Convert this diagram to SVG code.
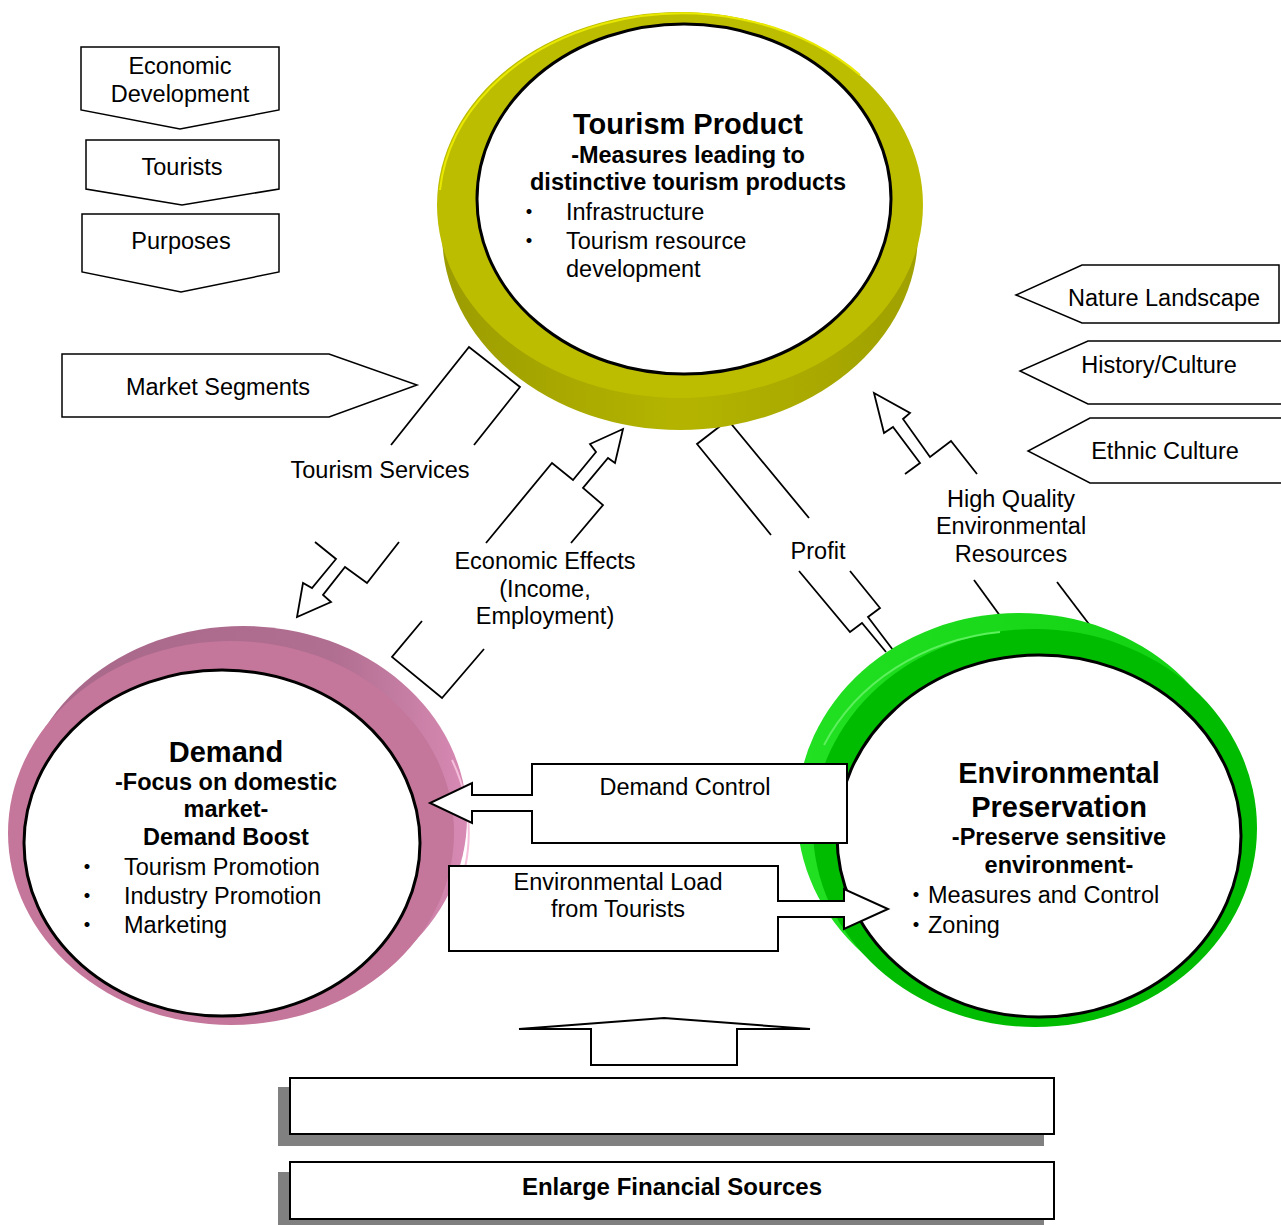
<svg xmlns="http://www.w3.org/2000/svg" width="1281" height="1225" viewBox="0 0 1281 1225">
<style>
text{font-family:"Liberation Sans",Arial,"Noto Sans CJK JP",sans-serif;fill:#000}
.t{font-size:23.5px}
.c{text-anchor:middle}
.h{font-size:29px;font-weight:bold}
.s{font-size:23.5px;font-weight:bold}
.shape{fill:#fff;stroke:#000;stroke-width:1.5}
.box{fill:#fff;stroke:#000;stroke-width:2}
.ln{fill:none;stroke:#000;stroke-width:1.8;stroke-linejoin:miter}
.inner{fill:#fff;stroke:#000;stroke-width:3}
</style>
<defs>
<linearGradient id="gY" x1="0" y1="0" x2="1" y2="0">
<stop offset="0" stop-color="#9C9C00"/><stop offset="0.5" stop-color="#B4B400"/><stop offset="1" stop-color="#A0A000"/>
</linearGradient>
<linearGradient id="gP" x1="0" y1="0" x2="1" y2="0">
<stop offset="0" stop-color="#A8688A"/><stop offset="0.7" stop-color="#B06E90"/><stop offset="1" stop-color="#D88AB4"/>
</linearGradient>
<linearGradient id="gG" x1="0" y1="0" x2="1" y2="0">
<stop offset="0" stop-color="#22E022"/><stop offset="1" stop-color="#10D010"/>
</linearGradient>
</defs>
<rect width="1281" height="1225" fill="#fff"/>

<g id="connectors">
<polyline class="ln" points="391,445 469,347 520,387 474,445"/>
<polyline class="ln" points="315,542 336,559 312,588 303,583 297,617 331,602 323,595 345,567 367,583 399,542"/>
<polyline class="ln" points="486,543 552,463 573,480 596,452 590,444 623,429 615,463 608,458 583,488 603,505 571,543"/>
<polyline class="ln" points="422,621 392,657 442,698 484,649"/>
<polyline class="ln" points="771,535 697,444 728,420 809,518"/>
<polyline class="ln" points="799,571 850,632 862,623 886,652"/>
<polyline class="ln" points="850,571 880,608 868,617 893,650"/>
<polyline class="ln" points="905,474 920,463 893,427 884,433 874,393 910,413 903,419 930,457 951,441 977,474"/>
<polyline class="ln" points="974,580 1006,624"/>
<polyline class="ln" points="1057,582 1098,636"/>
<text class="t c" x="380" y="478">Tourism Services</text>
<text class="t c" x="545" y="569">Economic Effects</text>
<text class="t c" x="545" y="597">(Income,</text>
<text class="t c" x="545" y="624">Employment)</text>
<text class="t c" x="818" y="559">Profit</text>
<text class="t c" x="1011" y="507">High Quality</text>
<text class="t c" x="1011" y="534">Environmental</text>
<text class="t c" x="1011" y="562">Resources</text>
</g>

<g id="economic-development">
<polygon class="shape" points="81,47 279,47 279,110 180,129 81,110"/>
<text class="t c" x="180" y="74">Economic</text>
<text class="t c" x="180" y="102">Development</text>
</g>
<g id="tourists">
<polygon class="shape" points="86,140 279,140 279,189 182,205 86,189"/>
<text class="t c" x="182" y="175">Tourists</text>
</g>
<g id="purposes">
<polygon class="shape" points="82,214 279,214 279,272 181,292 82,272"/>
<text class="t c" x="181" y="249">Purposes</text>
</g>
<g id="market-segments">
<polygon class="shape" points="62,354 329,354 417,385 329,417 62,417"/>
<text class="t c" x="218" y="395">Market Segments</text>
</g>
<g id="nature-landscape">
<polygon class="shape" points="1016,295 1082,265 1279,265 1279,323 1082,323"/>
<text class="t c" x="1164" y="306">Nature Landscape</text>
</g>
<g id="history-culture">
<polyline class="shape" points="1282,341 1088,341 1020,371 1088,404 1282,404"/>
<text class="t c" x="1159" y="373">History/Culture</text>
</g>
<g id="ethnic-culture">
<polyline class="shape" points="1282,418 1090,418 1028,451 1090,483 1282,483"/>
<text class="t c" x="1165" y="459">Ethnic Culture</text>
</g>

<g id="tourism-product">
<ellipse cx="680" cy="233" rx="238" ry="197" fill="url(#gY)"/>
<ellipse cx="680" cy="205" rx="243" ry="193" fill="#BDBD00"/>
<path d="M440,190 A243,193 0 0 1 860,75" fill="none" stroke="#E8E800" stroke-width="2"/>
<ellipse class="inner" cx="684" cy="199" rx="207" ry="175"/>
<text class="h c" x="688" y="134">Tourism Product</text>
<text class="s c" x="688" y="163">-Measures leading to</text>
<text class="s c" x="688" y="190">distinctive tourism products</text>
<text class="t c" x="529" y="220">・</text>
<text class="t" x="566" y="220">Infrastructure</text>
<text class="t c" x="529" y="249">・</text>
<text class="t" x="566" y="249">Tourism resource</text>
<text class="t" x="566" y="277">development</text>
</g>

<g id="demand">
<ellipse cx="243" cy="818" rx="224" ry="192" fill="url(#gP)"/>
<path d="M452,760 A222,190 0 0 1 452,905" fill="none" stroke="#F6C0DC" stroke-width="2"/>
<ellipse cx="231" cy="833" rx="223" ry="192" fill="#C4779A"/>
<ellipse class="inner" cx="222" cy="843" rx="198" ry="173"/>
<text class="h c" x="226" y="762">Demand</text>
<text class="s c" x="226" y="790">-Focus on domestic</text>
<text class="s c" x="226" y="817">market-</text>
<text class="s c" x="226" y="845">Demand Boost</text>
<text class="t c" x="87" y="875">・</text>
<text class="t" x="124" y="875">Tourism Promotion</text>
<text class="t c" x="87" y="904">・</text>
<text class="t" x="124" y="904">Industry Promotion</text>
<text class="t c" x="87" y="933">・</text>
<text class="t" x="124" y="933">Marketing</text>
</g>

<g id="environmental-preservation">
<ellipse cx="1019" cy="812" rx="222" ry="199" fill="url(#gG)"/>
<ellipse cx="1035" cy="828" rx="222" ry="199" fill="#00BC00"/>
<path d="M824,745 A222,199 0 0 1 1000,632" fill="none" stroke="#5CF05C" stroke-width="2"/>
<ellipse class="inner" cx="1039" cy="836" rx="202" ry="181"/>
<text class="h c" x="1059" y="783">Environmental</text>
<text class="h c" x="1059" y="817">Preservation</text>
<text class="s c" x="1059" y="845">-Preserve sensitive</text>
<text class="s c" x="1059" y="873">environment-</text>
<text class="t c" x="916" y="903">・</text>
<text class="t" x="928" y="903">Measures and Control</text>
<text class="t c" x="916" y="933">・</text>
<text class="t" x="928" y="933">Zoning</text>
</g>

<g id="demand-control">
<polygon class="box" points="847,764 532,764 532,795 472,795 472,783 430,803 472,823 472,811 532,811 532,843 847,843"/>
<text class="t c" x="685" y="795">Demand Control</text>
</g>
<g id="environmental-load">
<polygon class="box" points="449,866 778,866 778,901 844,901 844,889 888,909 844,929 844,917 778,917 778,951 449,951"/>
<text class="t c" x="618" y="890">Environmental Load</text>
<text class="t c" x="618" y="917">from Tourists</text>
</g>

<g id="up-arrow">
<polygon class="box" points="519,1029 664,1018 810,1029 737,1029 737,1065 591,1065 591,1029"/>
</g>
<g id="box-upper">
<rect x="278" y="1087" width="766" height="59" fill="#808080"/>
<rect class="box" x="290" y="1078" width="764" height="56"/>
</g>
<g id="enlarge-financial-sources">
<rect x="278" y="1172" width="766" height="59" fill="#808080"/>
<rect class="box" x="290" y="1162" width="764" height="57"/>
<text class="s c" x="672" y="1195" style="font-size:24px">Enlarge Financial Sources</text>
</g>
</svg>
